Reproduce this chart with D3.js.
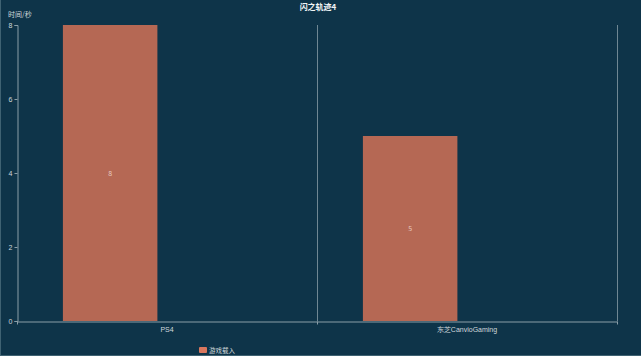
<!DOCTYPE html>
<html><head><meta charset="utf-8">
<script src="https://cdn.jsdelivr.net/npm/d3@7"></script>
<style>html,body{margin:0;padding:0;background:#0e3449;}svg{display:block;}</style>
</head><body>
<script>
const title = "闪之轨迹4";
const yName = "时间/秒";
const seriesName = "游戏载入";
const categories = ["PS4", "东芝CanvioGaming"];
const values = [8, 5];
const yTicks = [0, 2, 4, 6, 8];

const W = 641, H = 356;
const m = {l: 17, r: 24, t: 25, b: 35};
const svg = d3.select("body").append("svg").attr("width", W).attr("height", H)
  .style("font-family", "'Noto Sans CJK SC','Noto Sans',sans-serif");
svg.append("rect").attr("width", W).attr("height", H).attr("fill", "#0e3449");
svg.append("line").attr("x1", 0.5).attr("x2", 0.5).attr("y1", 0).attr("y2", H).attr("stroke", "#3f6272");
svg.append("line").attr("x1", 0).attr("x2", W).attr("y1", H - 0.5).attr("y2", H - 0.5).attr("stroke", "#3f6272");

const x = d3.scaleBand().domain(categories).range([m.l, W - m.r]);
const y = d3.scaleLinear().domain([0, 8]).range([H - m.b, m.t]);

const axisCol = "#8a9ea8";
const bounds = categories.map(c => x(c)).concat([x.range()[1]]);
svg.selectAll(".split").data(bounds.slice(1)).enter().append("line")
  .attr("x1", d => Math.round(d) + 0.5).attr("x2", d => Math.round(d) + 0.5)
  .attr("y1", m.t).attr("y2", H - m.b).attr("stroke", "#6f8793").attr("stroke-width", 1);

// bars (first slot of a two-slot group within each category)
const barW = x.bandwidth() * 0.315;
const barOff = x.bandwidth() * 0.153;
svg.selectAll(".bar").data(values).enter().append("rect")
  .attr("x", (d, i) => x(categories[i]) + barOff)
  .attr("width", barW)
  .attr("y", d => y(d)).attr("height", d => y(0) - y(d))
  .attr("fill", "#b56854");
svg.selectAll(".lbl").data(values).enter().append("text")
  .attr("x", (d, i) => x(categories[i]) + barOff + barW / 2)
  .attr("y", d => (y(d) + y(0)) / 2 + 2.5)
  .attr("text-anchor", "middle").attr("font-size", 7).attr("fill", "#e8c8c0")
  .text(d => d);

const ya = svg.append("g").attr("transform", `translate(${m.l + 0.5},0)`)
  .call(d3.axisLeft(y).tickValues(yTicks).tickSize(3).tickPadding(2));
ya.select(".domain").attr("stroke", axisCol);
ya.selectAll(".tick line").attr("stroke", axisCol);
ya.selectAll("text").attr("fill", "#d0d8dc").attr("font-size", 7);

const xa = svg.append("g").attr("transform", `translate(0,${H - m.b + 0.5})`)
  .call(d3.axisBottom(x).tickSize(0).tickPadding(6));
xa.select(".domain").attr("stroke", axisCol);
xa.selectAll("text").attr("fill", "#d0d8dc").attr("font-size", 7);
xa.selectAll(".bt").data(bounds).enter().append("line").attr("class", "bt")
  .attr("x1", d => Math.round(d) + 0.5).attr("x2", d => Math.round(d) + 0.5)
  .attr("y1", 0).attr("y2", 3).attr("stroke", axisCol);

svg.append("text").attr("x", 318).attr("y", 10).attr("text-anchor", "middle")
  .attr("font-size", 8).attr("font-weight", "bold").attr("fill", "#f0f4f6").text(title);
svg.append("text").attr("x", 8).attr("y", 17).attr("font-size", 7)
  .attr("fill", "#d0d8dc").text(yName);

const lg = svg.append("g").attr("transform", "translate(199,347)");
lg.append("rect").attr("width", 8).attr("height", 6).attr("rx", 1).attr("fill", "#d9775e");
lg.append("text").attr("x", 10).attr("y", 5.5).attr("font-size", 6.5).attr("fill", "#d0d8dc").text(seriesName);
</script>
</body></html>
